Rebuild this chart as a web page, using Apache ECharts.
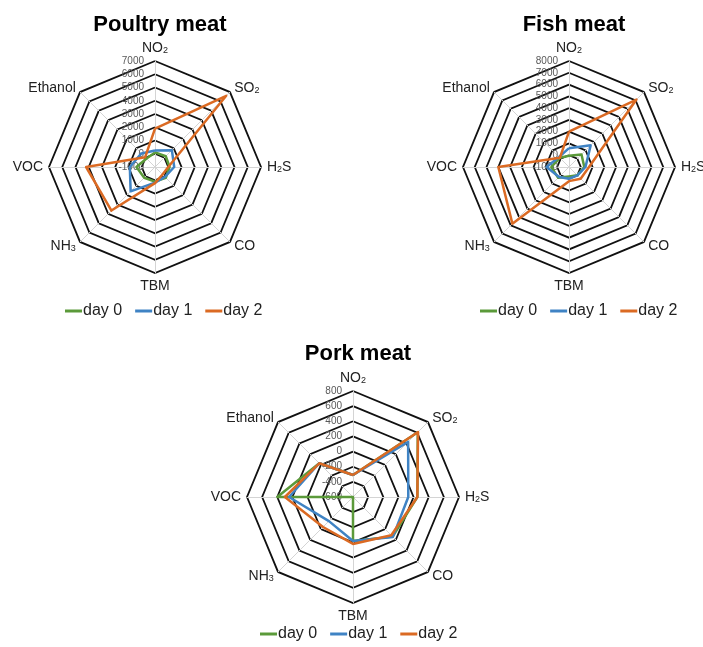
<!DOCTYPE html>
<html><head><meta charset="utf-8">
<script src="https://cdn.jsdelivr.net/npm/echarts@6/dist/echarts.min.js"></script>
<style>html,body{margin:0;padding:0;background:#fff}#c{width:703px;height:647px}</style>
</head><body><div id="c"></div>
<script>
// categories in clockwise order starting at top
const categories = ['NO2', 'SO2', 'H2S', 'CO', 'TBM', 'NH3', 'VOC', 'Ethanol'];
const seriesNames = ['day 0', 'day 1', 'day 2'];

// Poultry meat (axis -1000 .. 7000)
const poultryDay0 = [100, 150, 100, 150, 100, 150, 400, -100];
const poultryDay1 = [250, 800, 450, 60, 180, 1600, 900, 450];
const poultryDay2 = [1900, 6600, 0, -200, 220, 3650, 4200, 50];
const poultryTicks = [-1000, 7000, 8];

// Fish meat (axis -1000 .. 8000)
const fishDay0 = [-50, 500, 300, 0, -200, 300, 500, 100];
const fishDay1 = [600, 1600, 400, 0, 0, 200, 900, 200];
const fishDay2 = [2000, 7100, 700, 400, 200, 5800, 5000, 100];
const fishTicks = [-1000, 8000, 9];

// Pork meat (axis -600 .. 800)
const porkDay0 = [-310, 610, 250, 140, -20, -600, 400, 30];
const porkDay1 = [-310, 430, 130, 145, -20, -150, 245, 30];
const porkDay2 = [-310, 615, 250, 115, 20, -40, 300, 30];
const porkTicks = [-600, 800, 7];

const colors = ['#5b9a3a', '#3f83c4', '#db6a23'];
const FONT = 'Liberation Sans';

// ECharts radar runs counter-clockwise: keep first, reverse the rest
function ccw(arr) { return [arr[0]].concat(arr.slice(1).reverse()); }

function radarCfg(center, radius, ticks) {
  const names = ccw(categories);
  return {
    center: center, radius: radius, shape: 'polygon', startAngle: 90,
    splitNumber: ticks[2],
    indicator: names.map((n, i) => {
      const ind = { name: n, min: ticks[0], max: ticks[1] };
      if (i === 0) ind.axisLabel = { show: true, color: '#595959', fontSize: 10, margin: 11, fontFamily: FONT, formatter: (v) => String(v) };
      return ind;
    }),
    axisName: {
      color: '#222', fontSize: 14, fontFamily: FONT,
      formatter: (v) => v.replace(/(\d)/, '{sub|$1}'),
      rich: { sub: { fontSize: 9, fontFamily: FONT, color: '#222', padding: [5, 0, 0, 0] } }
    },
    nameGap: 6,
    axisLine: { lineStyle: { color: '#d4d4d4', width: 1 } },
    splitLine: { lineStyle: { color: '#111', width: 1.8 } },
    splitArea: { show: false },
    axisTick: { show: false },
    axisLabel: { show: false }
  };
}

function radarSeries(idx, sets) {
  return {
    type: 'radar', radarIndex: idx, symbol: 'none',
    data: sets.map((vals, k) => ({
      name: seriesNames[k], value: ccw(vals),
      lineStyle: { color: colors[k], width: 2.5 },
      itemStyle: { color: colors[k] }
    }))
  };
}

function legendCfg(left, top) {
  return {
    data: seriesNames, left: left, top: top, itemWidth: 17, itemHeight: 3, icon: 'rect',
    itemGap: 13, textStyle: { fontSize: 16, color: '#222', fontFamily: FONT, padding: [0, 0, 0, -4] }
  };
}

const titleStyle = { fontSize: 22, fontWeight: 'bold', color: '#000', fontFamily: FONT };

const chart = echarts.init(document.getElementById('c'), null, { renderer: 'canvas' });
chart.setOption({
  color: colors,
  animation: false,
  title: [
    { text: 'Poultry meat', left: 155, top: 9, textAlign: 'center', textStyle: titleStyle },
    { text: 'Fish meat', left: 569, top: 9, textAlign: 'center', textStyle: titleStyle },
    { text: 'Pork meat', left: 353, top: 338, textAlign: 'center', textStyle: titleStyle }
  ],
  radar: [
    radarCfg([155, 167], 106, poultryTicks),
    radarCfg([569, 167], 106, fishTicks),
    radarCfg([353, 497], 106, porkTicks)
  ],
  legend: [legendCfg(60, 298), legendCfg(475, 298), legendCfg(255, 621)],
  series: [
    radarSeries(0, [poultryDay0, poultryDay1, poultryDay2]),
    radarSeries(1, [fishDay0, fishDay1, fishDay2]),
    radarSeries(2, [porkDay0, porkDay1, porkDay2])
  ]
});
</script></body></html>
